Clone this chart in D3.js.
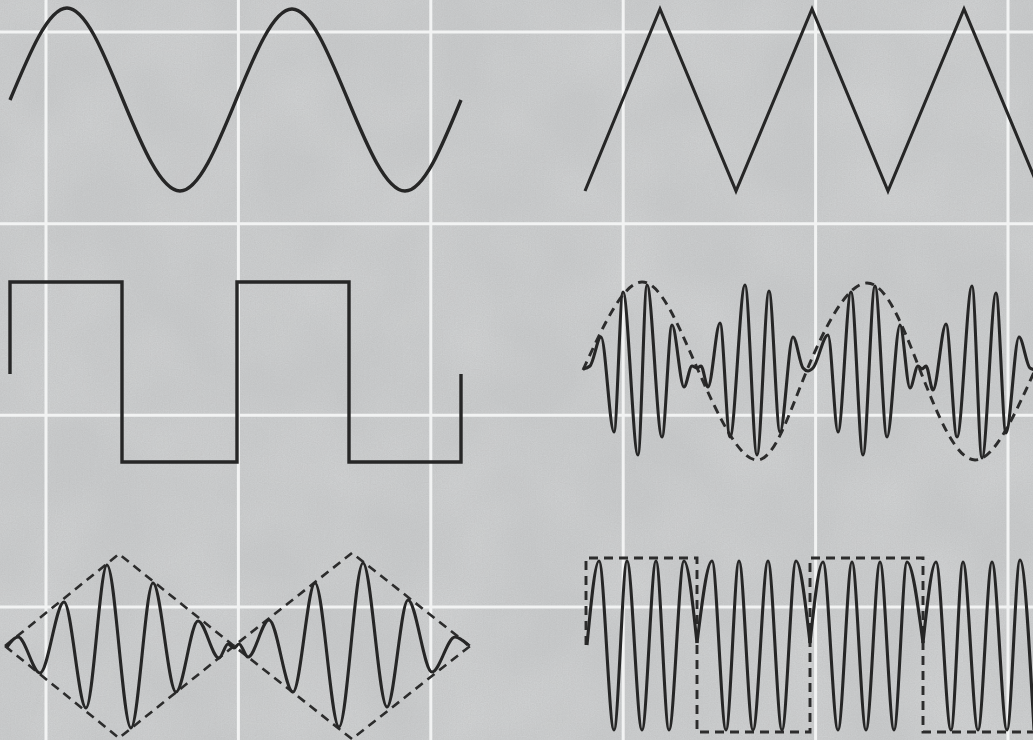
<!DOCTYPE html>
<html>
<head>
<meta charset="utf-8">
<script src="https://cdn.jsdelivr.net/npm/d3@7"></script>
<style>
  html, body { margin: 0; padding: 0; background: #c9cbcc; overflow: hidden; }
  svg { display: block; }
</style>
</head>
<body>
<svg id="chart" width="1033" height="740"></svg>
<script>
// ---------------- DATA ----------------
// grid divisions
const gridCols = [0, 1, 2, 3, 4, 5];
const gridRows = [0, 1, 2, 3];

// Panel A: sine wave (time, amplitude)
const sineT = [0, 57, 113, 170, 226, 282, 338, 395, 451];
const sineV = [0, 92, 0, -91, 0, 91, 0, -91, 0];

// Panel B: triangle wave
const triT = [0, 75, 151, 227, 303, 379, 455];
const triV = [-91, 91, -91, 91, -91, 91, -91];

// Panel C: square wave
const sqT = [0, 0, 112, 112, 227, 227, 339, 339, 451, 451];
const sqV = [-2, 90, 90, -90, -90, 90, 90, -90, -90, -2];

// Panel D: DSB (sine-modulated) signal and its modulating sine
const dsbT = [-2, 5, 16, 29, 38, 53, 62, 77, 87, 99, 107, 112, 116, 123, 135, 145, 160, 172, 184, 195,
              208, 218, 223, 228, 243, 253, 266, 278, 290, 302, 315, 325, 333, 337, 341, 348, 361, 372, 387, 397,
              411, 421, 434, 445, 451];
const dsbV = [1, 4, 33, -62, 78, -85, 85, -67, 45, -17, 4, 2, 4, -17, 47, -67, 85, -85, 79, -62,
              33, 2, -1, 2, 35, -62, 78, -85, 84, -67, 45, -18, 4, 1, 4, -20, 46, -67, 84, -88,
              77, -63, 33, 2, 0];
const msgT = [-2, 57, 113, 172, 222, 282, 335, 390, 450];
const msgV = [0, 88, 0, -90, 0, 87, 0, -90, 0];

// Panel E: triangle-modulated signal and its envelope
const tmT = [-3, 8, 30, 54, 76, 97, 121, 143, 166, 188, 209, 218, 224, 229, 238, 259, 283, 305, 329, 353,
             377, 398, 422, 445, 458];
const tmV = [-1, 9, -27, 44, -62, 81, -82, 63, -46, 25, -12, 2, -2, 2, -11, 26, -46, 63, -81, 83,
             -61, 46, -26, 9, 1];
const envT = [-5, 109, 224, 342, 460];
const envV = [0, 92, 0, 93, 0];

// Panel F: phase-shift keyed carrier and binary data
const pskT = [2, 14, 29, 42, 57, 71, 84, 99, 112, 127, 141, 154, 168, 183, 197, 211, 225,
              238, 253, 267, 281, 295, 309, 322, 338, 351, 366, 378, 393, 407, 422, 435, 449];
const pskV = [0, 84, -85, 84, -85, 84, -85, 84, 2, 84, -85, 84, -85, 84, -85, 84, 2,
              83, -85, 83, -85, 83, -85, 83, 2, 83, -85, 83, -85, 83, -85, 85, -85];
const flipT = [112, 225, 338];
const bitT = [1, 112, 225, 338, 455];
const bitLevel = [87, -87, 87, -87];

// ---------------- LAYOUT ----------------
const W = 1033, H = 740;
const svg = d3.select("#chart");

const defs = svg.append("defs");
const f = defs.append("filter").attr("id", "grain").attr("x", 0).attr("y", 0).attr("width", "100%").attr("height", "100%");
f.append("feTurbulence").attr("type", "fractalNoise").attr("baseFrequency", 0.85).attr("numOctaves", 2).attr("seed", 3).attr("result", "n");
f.append("feColorMatrix").attr("type", "matrix")
  .attr("values", "0 0 0 0 0.45  0 0 0 0 0.45  0 0 0 0 0.45  0.7 0.7 0.7 0 -0.7");
const f2 = defs.append("filter").attr("id", "blotch").attr("x", 0).attr("y", 0).attr("width", "100%").attr("height", "100%");
f2.append("feTurbulence").attr("type", "fractalNoise").attr("baseFrequency", 0.012).attr("numOctaves", 2).attr("seed", 7);
f2.append("feColorMatrix").attr("type", "matrix")
  .attr("values", "0 0 0 0 1  0 0 0 0 1  0 0 0 0 1  0.5 0 0 0 -0.15");

svg.append("rect").attr("width", W).attr("height", H).attr("fill", "#c8cacb");
svg.append("rect").attr("width", W).attr("height", H).attr("filter", "url(#blotch)").attr("opacity", 0.5);
svg.append("rect").attr("width", W).attr("height", H).attr("filter", "url(#grain)").attr("opacity", 0.4);

// grid
const gx = d3.scaleLinear().domain([0, 5]).range([46, 1008]);
const gy = d3.scaleLinear().domain([0, 3]).range([32, 607]);
const grid = svg.append("g").attr("stroke", "#f6f7f7").attr("stroke-width", 3).attr("opacity", 0.92);
grid.selectAll("line.v").data(gridCols).join("line").attr("class", "v")
  .attr("x1", d => gx(d)).attr("x2", d => gx(d)).attr("y1", 0).attr("y2", H);
grid.selectAll("line.h").data(gridRows).join("line").attr("class", "h")
  .attr("y1", d => gy(d)).attr("y2", d => gy(d)).attr("x1", 0).attr("x2", W);

// panels: origin and centre line
const panels = {
  A: { x0: 10, cy: 100 }, B: { x0: 585, cy: 100 },
  C: { x0: 10, cy: 372 }, D: { x0: 585, cy: 370 },
  E: { x0: 10, cy: 646 }, F: { x0: 585, cy: 645 }
};
function scales(p) {
  const P = panels[p];
  return {
    x: d3.scaleLinear().domain([0, 460]).range([P.x0, P.x0 + 460]),
    y: d3.scaleLinear().domain([-100, 100]).range([P.cy + 100, P.cy - 100])
  };
}
const zip = (T, V) => T.map((t, i) => [t, V[i]]);

const SOLID = "#262626";
function drawLine(p, pts, curve, opts = {}) {
  const s = scales(p);
  const gen = d3.line().x(d => s.x(d[0])).y(d => s.y(d[1])).curve(curve);
  svg.append("path").attr("d", gen(pts))
    .attr("fill", "none")
    .attr("stroke", opts.color || SOLID)
    .attr("stroke-width", opts.width || 3.2)
    .attr("stroke-linejoin", opts.join || "round")
    .attr("stroke-linecap", opts.cap || "butt")
    .attr("stroke-dasharray", opts.dash || null);
}

// A: sine
drawLine("A", zip(sineT, sineV), d3.curveNatural, { width: 3.4 });
// B: triangle
drawLine("B", zip(triT, triV), d3.curveLinear, { width: 3.1, join: "miter" });
// C: square
drawLine("C", zip(sqT, sqV), d3.curveLinear, { width: 3.4, join: "miter" });

// D: modulating sine (dashed) + DSB signal
const DASH = { color: "#2c2c2c", width: 2.9, dash: "9,6" };
drawLine("D", zip(msgT, msgV), d3.curveNatural, DASH);
drawLine("D", zip(dsbT, dsbV), d3.curveMonotoneX, { width: 3.1 });

// E: envelope diamond (dashed) + triangle-modulated signal
drawLine("E", zip(envT, envV), d3.curveLinear, Object.assign({ join: "miter" }, DASH, { width: 2.6 }));
drawLine("E", zip(envT, envV.map(v => -v)), d3.curveLinear, Object.assign({ join: "miter" }, DASH, { width: 2.6 }));
drawLine("E", zip(tmT, tmV), d3.curveMonotoneX, { width: 3.1 });

// F: binary data (dashed square) + PSK carrier split at phase flips
const bitPts = [[bitT[0], 0]];
bitLevel.forEach((lv, i) => { bitPts.push([bitT[i], lv]); bitPts.push([bitT[i + 1], lv]); });
drawLine("F", bitPts, d3.curveLinear, Object.assign({ join: "miter" }, DASH));
const psk = zip(pskT, pskV);
let seg = [];
psk.forEach(d => {
  seg.push(d);
  if (flipT.includes(d[0])) { drawLine("F", seg, d3.curveMonotoneX, { width: 3.1 }); seg = [d]; }
});
drawLine("F", seg, d3.curveMonotoneX, { width: 3.1 });
</script>
</body>
</html>
